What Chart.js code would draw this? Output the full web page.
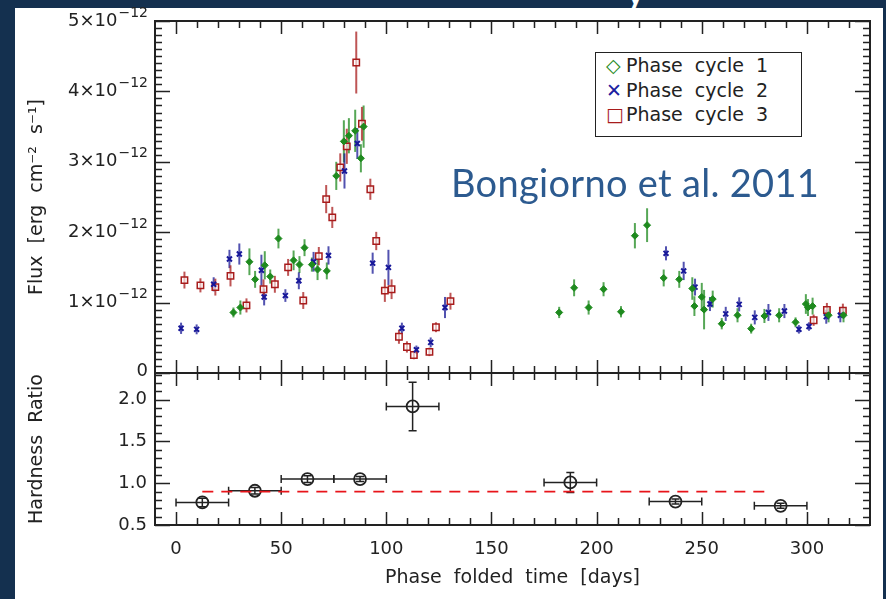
<!DOCTYPE html>
<html>
<head>
<meta charset="utf-8">
<script src="https://cdn.jsdelivr.net/npm/chart.js@4.4.1/dist/chart.umd.min.js"></script>
<style>
  body { margin: 0; background: #14304f; width: 886px; height: 599px; overflow: hidden; position: relative; }
  #paper { position: absolute; left: 15px; top: 8px; width: 868px; height: 600px; background: #fff; }
  canvas { position: absolute; left: 0; top: 0; }
  #slidey { position: absolute; left: 624px; top: -38px; font: 44px Lato; color: #fff; }
  #cite { position: absolute; left: 451px; top: 159px; font: 38px Lato; color: #2c5a8f; white-space: nowrap; letter-spacing: 0.3px; }
  #legend { position: absolute; left: 595px; top: 52px; width: 205px; height: 83px; border: 1.5px solid #222;
            background: #fff; font: 19px 'DejaVu Sans'; color: #222; word-spacing: 6px; }
  #legend div { height: 24.5px; line-height: 25px; padding-left: 10px; white-space: nowrap; }
  #legend span { display: inline-block; width: 20px; }
</style>
</head>
<body>
<div id="paper"></div>
<div id="slidey">y</div>
<canvas id="flux" width="886" height="599"></canvas>
<canvas id="hr" width="886" height="599"></canvas>
<div id="legend">
  <div><span style="color:#1e8a1e">&#9671;</span>Phase cycle 1</div>
  <div><span style="color:#1c1ca0">&#10005;</span>Phase cycle 2</div>
  <div><span style="color:#a81c1c">&#9633;</span>Phase cycle 3</div>
</div>
<div id="cite">Bongiorno et al. 2011</div>
<script>
// flux in units of 1e-12 erg cm^-2 s^-1
const cycle1X = [27.3, 30.6, 34.9, 37.6, 42.2, 44.8, 48.7, 55.9, 58.7, 61.1, 64.6, 67.3, 71.7, 76.2, 79.8, 82.2, 85.2, 87.9, 89.2,
  182.2, 189.3, 196.2, 203.3, 211.6, 218.2, 224.0, 231.9, 239.3, 245.5, 246.5, 250.0, 251.1, 255.2, 259.5, 267.0, 273.5,
  279.8, 286.8, 294.6, 299.5, 300.5, 302.7, 310.3, 317.4];
const cycle1Y = [0.86, 0.93, 1.58, 1.33, 1.53, 1.37, 1.91, 1.60, 1.54, 1.78, 1.54, 1.47, 1.45, 2.80, 3.29, 3.37, 3.44, 3.05, 3.50,
  0.86, 1.21, 0.93, 1.19, 0.87, 1.95, 2.10, 1.35, 1.33, 1.20, 0.95, 1.08, 0.90, 1.05, 0.70, 0.82, 0.63,
  0.81, 0.82, 0.72, 0.98, 0.93, 0.95, 0.82, 0.82];
const cycle1Err = [0.07, 0.1, 0.19, 0.12, 0.2, 0.1, 0.14, 0.14, 0.12, 0.12, 0.1, 0.15, 0.12, 0.2, 0.3, 0.25, 0.3, 0.2, 0.3,
  0.08, 0.12, 0.1, 0.1, 0.08, 0.18, 0.24, 0.12, 0.12, 0.16, 0.14, 0.2, 0.28, 0.12, 0.08, 0.1, 0.07,
  0.1, 0.1, 0.07, 0.14, 0.12, 0.12, 0.1, 0.1];

const cycle2X = [2.4, 9.8, 17.9, 25.4, 30.1, 40.6, 41.9, 52.0, 58.4, 65.4, 72.5, 80.1, 86.2, 93.5, 101.0, 107.4, 114.3, 121.1, 127.9,
  233.0, 241.4, 246.8, 253.9, 261.4, 267.8, 275.2, 281.7, 289.3, 296.2, 301.0, 309.2, 315.9];
const cycle2Y = [0.635, 0.62, 1.26, 1.62, 1.69, 1.46, 1.08, 1.10, 1.31, 1.58, 1.67, 2.87, 3.26, 1.56, 1.50, 0.635, 0.33, 0.435, 0.93,
  1.70, 1.45, 1.22, 0.98, 0.84, 0.975, 0.79, 0.86, 0.88, 0.62, 0.66, 0.80, 0.82];
const cycle2Err = [0.08, 0.07, 0.1, 0.13, 0.15, 0.22, 0.12, 0.09, 0.12, 0.14, 0.13, 0.25, 0.22, 0.15, 0.25, 0.08, 0.06, 0.07, 0.15,
  0.1, 0.13, 0.12, 0.1, 0.1, 0.1, 0.1, 0.12, 0.1, 0.06, 0.06, 0.1, 0.1];

const cycle3X = [4.0, 11.6, 18.7, 25.9, 33.5, 41.6, 47.0, 53.3, 60.5, 67.9, 71.4, 74.3, 78.1, 81.2, 85.7, 88.4, 92.4, 95.2, 99.3,
  102.5, 106.0, 109.8, 113.1, 120.5, 123.6, 130.5, 303.2, 309.5, 317.1];
const cycle3Y = [1.32, 1.245, 1.22, 1.38, 0.96, 1.19, 1.26, 1.50, 1.03, 1.66, 2.47, 2.21, 2.92, 3.22, 4.41, 3.54, 2.61, 1.875, 1.17,
  1.19, 0.515, 0.37, 0.255, 0.30, 0.65, 1.02, 0.75, 0.895, 0.885];
const cycle3Err = [0.12, 0.1, 0.12, 0.15, 0.1, 0.14, 0.12, 0.12, 0.12, 0.13, 0.2, 0.15, 0.2, 0.25, 0.44, 0.24, 0.15, 0.13, 0.16,
  0.14, 0.1, 0.08, 0.06, 0.06, 0.07, 0.12, 0.08, 0.1, 0.1];

// hardness ratio, 25 day bins
const hrX = [12.5, 37.5, 62.5, 87.5, 112.5, 187.5, 237.5, 287.5];
const hrY = [0.77, 0.91, 1.05, 1.05, 1.92, 1.01, 0.78, 0.73];
const hrXErr = [12.5, 12.5, 12.5, 12.5, 12.5, 12.5, 12.5, 12.5];
const hrYErr = [0.05, 0.04, 0.04, 0.03, 0.29, 0.12, 0.03, 0.03];
const hrMeanX = [12.5, 283];
const hrMean = 0.9;

const xTickVals = [0, 50, 100, 150, 200, 250, 300];
const fluxTickVals = [0, 1, 2, 3, 4, 5];
const fluxExponent = '\u221212';
const hrTickVals = [0.5, 1.0, 1.5, 2.0];

const FONT = 'DejaVu Sans';
const INK = '#222';

function pts(xs, ys) {
  return xs.map((x, i) => ({x: x, y: ys[i]}));
}

// error bars, drawn under the markers
const errorBars = {
  id: 'errorBars',
  beforeDatasetsDraw(chart) {
    const ctx = chart.ctx;
    const xs = chart.scales.x, ys = chart.scales.y;
    ctx.save();
    chart.data.datasets.forEach(ds => {
      if (!ds.errY && !ds.errX) return;
      ctx.strokeStyle = ds.errColor;
      ctx.lineWidth = ds.errWidth || 2;
      ds.data.forEach((p, i) => {
        const px = xs.getPixelForValue(p.x), py = ys.getPixelForValue(p.y);
        ctx.beginPath();
        if (ds.errY) {
          const y1 = ys.getPixelForValue(p.y - ds.errY[i]), y2 = ys.getPixelForValue(p.y + ds.errY[i]);
          ctx.moveTo(px, y1); ctx.lineTo(px, y2);
          if (ds.caps) { ctx.moveTo(px - 4, y1); ctx.lineTo(px + 4, y1); ctx.moveTo(px - 4, y2); ctx.lineTo(px + 4, y2); }
        }
        if (ds.errX) {
          const x1 = xs.getPixelForValue(p.x - ds.errX[i]), x2 = xs.getPixelForValue(p.x + ds.errX[i]);
          ctx.moveTo(x1, py); ctx.lineTo(x2, py);
          if (ds.caps) { ctx.moveTo(x1, py - 4); ctx.lineTo(x1, py + 4); ctx.moveTo(x2, py - 4); ctx.lineTo(x2, py + 4); }
        }
        ctx.stroke();
      });
    });
    ctx.restore();
  }
};

// IDL-style box with inward ticks (+ optional n x 10^-12 labels)
const idlBox = {
  id: 'idlBox',
  afterDraw(chart, args, opts) {
    const ctx = chart.ctx, a = chart.chartArea;
    const xs = chart.scales.x, ys = chart.scales.y;
    ctx.save();
    ctx.strokeStyle = INK;
    ctx.lineWidth = 1.5;
    ctx.beginPath();
    for (let v = 0; v <= 320; v += 10) {
      const px = Math.round(xs.getPixelForValue(v)) + 0.5;
      const len = v % 50 === 0 ? 13 : 7;
      ctx.moveTo(px, a.bottom); ctx.lineTo(px, a.bottom - len);
      ctx.moveTo(px, a.top); ctx.lineTo(px, a.top + len);
    }
    for (let k = 0; k <= opts.yCount; k++) {
      const v = opts.yMin + k * opts.yMinor;
      const py = Math.round(ys.getPixelForValue(v)) + 0.5;
      const len = k % opts.yEvery === 0 ? 15 : 7;
      ctx.moveTo(a.left, py); ctx.lineTo(a.left + len, py);
      ctx.moveTo(a.right, py); ctx.lineTo(a.right - len, py);
    }
    ctx.stroke();
    ctx.lineWidth = 2;
    ctx.strokeRect(a.left, a.top, a.right - a.left, a.bottom - a.top);

    if (opts.expLabels) {
      ctx.fillStyle = INK;
      ctx.textAlign = 'right';
      ctx.textBaseline = 'middle';
      const right = a.left - 7;
      opts.expLabels.forEach(v => {
        const py = ys.getPixelForValue(v);
        if (v === 0) {
          ctx.font = '18px ' + FONT;
          ctx.fillText('0', right, py - 2);
          return;
        }
        ctx.font = '14px ' + FONT;
        const ew = ctx.measureText(fluxExponent).width;
        ctx.fillText(fluxExponent, right, py - 8);
        ctx.font = '18px ' + FONT;
        ctx.fillText(v + '\u00D710', right - ew - 1, py);
      });
    }
    ctx.restore();
  }
};

function yAxis(ticks, width, title, fmt, show) {
  return {
    afterFit(s) { s.width = width; },
    afterBuildTicks(s) { s.ticks = ticks.map(v => ({value: v})); },
    grid: {display: false, drawTicks: false},
    border: {display: false},
    ticks: {display: show, padding: 8, color: INK, font: {family: FONT, size: 18}, callback: fmt},
    title: {display: true, text: title, color: INK, font: {family: FONT, size: 19}, padding: {top: 8, bottom: 0}}
  };
}

new Chart(document.getElementById('flux'), {
  type: 'scatter',
  data: {
    datasets: [
      {label: 'Phase cycle 1', data: pts(cycle1X, cycle1Y), errY: cycle1Err, errColor: 'rgba(30,138,30,0.75)',
       pointStyle: 'rectRot', pointRadius: 3.5, backgroundColor: '#1e8a1e', borderColor: '#1e8a1e', borderWidth: 1},
      {label: 'Phase cycle 2', data: pts(cycle2X, cycle2Y), errY: cycle2Err, errColor: 'rgba(24,24,150,0.75)',
       pointStyle: 'crossRot', pointRadius: 3.5, borderColor: '#18189a', borderWidth: 2},
      {label: 'Phase cycle 3', data: pts(cycle3X, cycle3Y), errY: cycle3Err, errColor: 'rgba(168,28,28,0.75)',
       pointStyle: 'rect', pointRadius: 4.5, backgroundColor: 'rgba(255,255,255,0.6)', borderColor: '#a81c1c', borderWidth: 1.5}
    ]
  },
  options: {
    responsive: false,
    animation: false,
    layout: {padding: {left: 18, top: 21, right: 16, bottom: 226}},
    plugins: {
      legend: {display: false},
      tooltip: {enabled: false},
      idlBox: {yMin: 0, yMinor: 0.1, yCount: 50, yEvery: 10, expLabels: fluxTickVals}
    },
    scales: {
      x: {type: 'linear', min: -10, max: 330, display: false},
      y: Object.assign({min: 0, max: 5}, yAxis(fluxTickVals, 137, 'Flux  [erg  cm\u207B\u00B2  s\u207B\u00B9]',
        v => v === 0 ? '0' : v + '\u00D710\u207B\u00B9\u00B2', false))
    }
  },
  plugins: [errorBars, idlBox]
});

new Chart(document.getElementById('hr'), {
  type: 'scatter',
  data: {
    datasets: [
      {type: 'line', label: 'mean', data: pts(hrMeanX, [hrMean, hrMean]), borderColor: '#e8141a', borderWidth: 1.8,
       borderDash: [11, 8], pointRadius: 0, fill: false},
      {label: 'HR', data: pts(hrX, hrY), errX: hrXErr, errY: hrYErr, errColor: INK, errWidth: 1.5, caps: true,
       pointStyle: 'circle', pointRadius: 6, backgroundColor: 'rgba(0,0,0,0)', borderColor: INK, borderWidth: 1.8}
    ]
  },
  options: {
    responsive: false,
    animation: false,
    layout: {padding: {left: 18, top: 373, right: 16, bottom: 0}},
    plugins: {
      legend: {display: false},
      tooltip: {enabled: false},
      idlBox: {yMin: 0.5, yMinor: 0.1, yCount: 18, yEvery: 5}
    },
    scales: {
      x: {
        type: 'linear', min: -10, max: 330,
        afterFit(s) { s.height = 74; },
        afterBuildTicks(s) { s.ticks = xTickVals.map(v => ({value: v})); },
        grid: {display: false, drawTicks: false},
        border: {display: false},
        ticks: {padding: 14, color: INK, font: {family: FONT, size: 18}, maxRotation: 0},
        title: {display: true, text: 'Phase  folded  time  [days]', color: INK, font: {family: FONT, size: 19},
                padding: {top: 0, bottom: 10}}
      },
      y: Object.assign({min: 0.5, max: 2.32}, yAxis(hrTickVals, 137, 'Hardness  Ratio', v => v.toFixed(1), true))
    }
  },
  plugins: [errorBars, idlBox]
});
</script>
</body>
</html>
